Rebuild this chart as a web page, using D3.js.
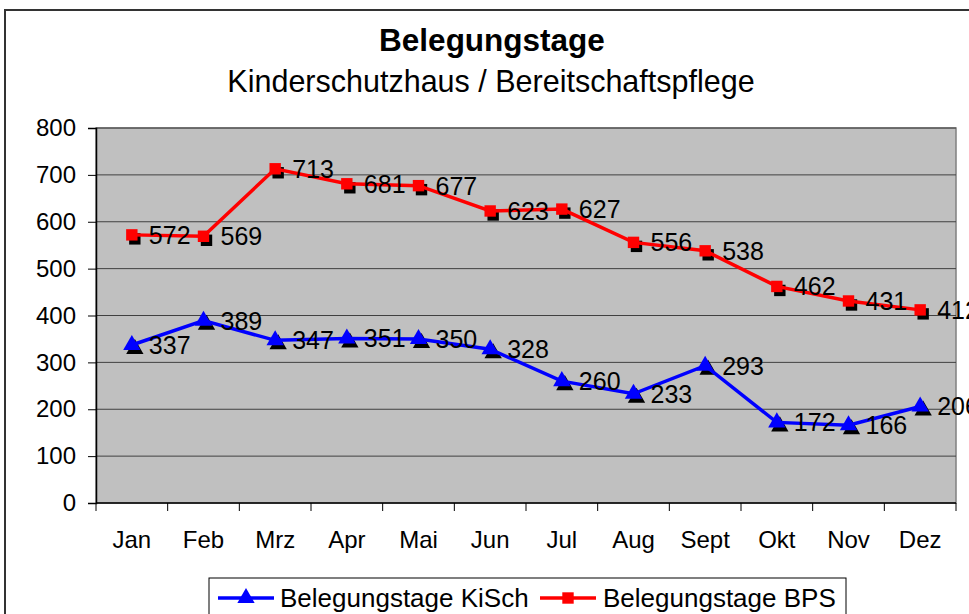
<!DOCTYPE html>
<html>
<head>
<meta charset="utf-8">
<script src="https://cdn.jsdelivr.net/npm/d3@7"></script>
<style>
  body { margin: 0; background: #fff; }
  text { font-family: "Liberation Sans", Arial, sans-serif; fill: #000; }
</style>
</head>
<body>
<svg id="chart"></svg>
<script>
const months = ["Jan", "Feb", "Mrz", "Apr", "Mai", "Jun", "Jul", "Aug", "Sept", "Okt", "Nov", "Dez"];
const kisch = [337, 389, 347, 351, 350, 328, 260, 233, 293, 172, 166, 206];
const bps = [572, 569, 713, 681, 677, 623, 627, 556, 538, 462, 431, 412];
const yTicks = [0, 100, 200, 300, 400, 500, 600, 700, 800];
const seriesNames = ["Belegungstage KiSch", "Belegungstage BPS"];

const width = 969, height = 614;
const plot = { left: 96, right: 956, top: 128, bottom: 503 };

const svg = d3.select("#chart").attr("width", width).attr("height", height);

// outer chart frame (runs off the right edge like the original)
svg.append("rect")
  .attr("x", 5).attr("y", 10)
  .attr("width", 1000).attr("height", 700)
  .attr("fill", "#fff")
  .attr("stroke", "#333").attr("stroke-width", 2);

// titles
svg.append("text")
  .attr("x", 492).attr("y", 51)
  .attr("text-anchor", "middle")
  .attr("font-size", 31.5).attr("font-weight", "bold")
  .text("Belegungstage");
svg.append("text")
  .attr("x", 491).attr("y", 92)
  .attr("text-anchor", "middle")
  .attr("font-size", 30.5)
  .text("Kinderschutzhaus / Bereitschaftspflege");

const x = d3.scaleBand().domain(months).range([plot.left, plot.right]);
const y = d3.scaleLinear().domain([0, 800]).range([plot.bottom, plot.top]);
const cx = (d, i) => x(months[i]) + x.bandwidth() / 2;

// plot background
svg.append("rect")
  .attr("x", plot.left).attr("y", plot.top)
  .attr("width", plot.right - plot.left).attr("height", plot.bottom - plot.top)
  .attr("fill", "#c0c0c0")
  .attr("stroke", "#808080").attr("stroke-width", 1.5);

// gridlines
svg.append("g")
  .selectAll("line")
  .data(yTicks.slice(1))
  .enter()
  .append("line")
  .attr("x1", plot.left).attr("x2", plot.right)
  .attr("y1", d => y(d)).attr("y2", d => y(d))
  .attr("stroke", "#404040").attr("stroke-width", 1);

// y axis
const yAxis = svg.append("g")
  .attr("transform", `translate(${plot.left},0)`)
  .call(d3.axisLeft(y).tickValues(yTicks).tickSize(8).tickPadding(12));
yAxis.select(".domain").attr("stroke", "#000").attr("stroke-width", 1.5);
yAxis.selectAll(".tick line").attr("stroke", "#000");
yAxis.selectAll("text").attr("font-size", 24).attr("font-family", "Liberation Sans, Arial, sans-serif").attr("fill", "#000");

// x axis with ticks on category boundaries
const xAxisG = svg.append("g").attr("transform", `translate(0,${plot.bottom})`);
xAxisG.append("line")
  .attr("x1", plot.left).attr("x2", plot.right)
  .attr("stroke", "#000").attr("stroke-width", 1.5);
xAxisG.selectAll(".bt")
  .data(months.concat(["_end"]))
  .enter()
  .append("line")
  .attr("x1", (d, i) => plot.left + i * x.bandwidth())
  .attr("x2", (d, i) => plot.left + i * x.bandwidth())
  .attr("y1", 0).attr("y2", 8)
  .attr("stroke", "#000");
xAxisG.selectAll("text")
  .data(months)
  .enter()
  .append("text")
  .attr("x", d => x(d) + x.bandwidth() / 2)
  .attr("y", 45)
  .attr("text-anchor", "middle")
  .attr("font-size", 24)
  .text(d => d);

const line = d3.line().x(cx).y(d => y(d));

const triangle = d3.symbol().type(d3.symbolTriangle).size(130);
const square = d3.symbol().type(d3.symbolSquare).size(130);

function drawSeries(values, color, sym, cls) {
  const g = svg.append("g").attr("class", cls);
  // black shadow markers
  g.selectAll(".shadow")
    .data(values)
    .enter()
    .append("path")
    .attr("d", sym)
    .attr("transform", (d, i) => `translate(${cx(d, i) + 3},${y(d) + 4})`)
    .attr("fill", "#000");
  g.append("path")
    .datum(values)
    .attr("d", line)
    .attr("fill", "none")
    .attr("stroke", color)
    .attr("stroke-width", 3.5);
  g.selectAll(".mark")
    .data(values)
    .enter()
    .append("path")
    .attr("d", sym)
    .attr("transform", (d, i) => `translate(${cx(d, i)},${y(d)})`)
    .attr("fill", color);
  g.selectAll(".lbl")
    .data(values)
    .enter()
    .append("text")
    .attr("x", (d, i) => cx(d, i) + 17)
    .attr("y", d => y(d) + 9)
    .attr("font-size", 25)
    .text(d => d);
}

drawSeries(bps, "#ff0000", square, "bps");
drawSeries(kisch, "#0000ff", triangle, "kisch");

// legend
const legend = svg.append("g");
legend.append("rect")
  .attr("x", 209).attr("y", 578)
  .attr("width", 637).attr("height", 60)
  .attr("fill", "#fff")
  .attr("stroke", "#000").attr("stroke-width", 1);

const legendItems = [
  { name: seriesNames[0], color: "#0000ff", sym: triangle, x0: 218, tx: 280 },
  { name: seriesNames[1], color: "#ff0000", sym: square, x0: 540, tx: 603 }
];
const ly = 598;
legendItems.forEach(it => {
  legend.append("line")
    .attr("x1", it.x0).attr("x2", it.x0 + 56)
    .attr("y1", ly).attr("y2", ly)
    .attr("stroke", it.color).attr("stroke-width", 3.5);
  legend.append("path")
    .attr("d", it.sym)
    .attr("transform", `translate(${it.x0 + 28},${ly})`)
    .attr("fill", it.color);
  legend.append("text")
    .attr("x", it.tx).attr("y", ly + 9)
    .attr("font-size", 26)
    .text(it.name);
});
</script>
</body>
</html>
